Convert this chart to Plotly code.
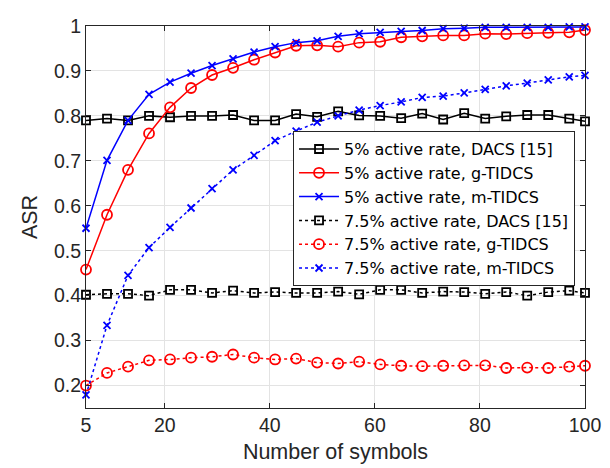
import plotly.graph_objects as go

symbols = [5, 9, 13, 17, 21, 25, 29, 33, 37, 41, 45, 49, 53, 57, 61, 65, 69, 73, 77, 81, 85, 89, 93, 97, 100]

dacs_5 = [0.790, 0.794, 0.790, 0.800, 0.797, 0.800, 0.800, 0.802, 0.790, 0.790, 0.804, 0.798, 0.810,
          0.801, 0.800, 0.795, 0.805, 0.792, 0.806, 0.794, 0.799, 0.802, 0.802, 0.794, 0.788]
gtidcs_5 = [0.458, 0.580, 0.680, 0.761, 0.819, 0.862, 0.891, 0.907, 0.925, 0.941, 0.956, 0.957, 0.954,
            0.963, 0.965, 0.975, 0.977, 0.979, 0.979, 0.983, 0.982, 0.984, 0.985, 0.986, 0.991]
mtidcs_5 = [0.550, 0.701, 0.790, 0.848, 0.875, 0.895, 0.912, 0.927, 0.942, 0.954, 0.963, 0.967, 0.977,
            0.983, 0.986, 0.988, 0.990, 0.994, 0.995, 0.997, 0.997, 0.997, 0.997, 0.998, 0.998]
dacs_75 = [0.402, 0.404, 0.404, 0.400, 0.413, 0.413, 0.406, 0.411, 0.406, 0.408, 0.406, 0.406, 0.409,
           0.403, 0.413, 0.413, 0.406, 0.409, 0.408, 0.404, 0.408, 0.400, 0.408, 0.411, 0.406]
gtidcs_75 = [0.200, 0.228, 0.242, 0.256, 0.258, 0.262, 0.264, 0.269, 0.262, 0.258, 0.260, 0.251, 0.249,
             0.253, 0.247, 0.244, 0.243, 0.244, 0.245, 0.245, 0.239, 0.240, 0.239, 0.242, 0.244]
mtidcs_75 = [0.179, 0.334, 0.445, 0.507, 0.552, 0.595, 0.638, 0.680, 0.712, 0.745, 0.766, 0.786, 0.800,
             0.813, 0.823, 0.831, 0.841, 0.844, 0.851, 0.859, 0.867, 0.873, 0.880, 0.887, 0.890]

x_ticks = [5, 20, 40, 60, 80, 100]
y_ticks = [0.2, 0.3, 0.4, 0.5, 0.6, 0.7, 0.8, 0.9, 1.0]
y_tick_labels = ["0.2", "0.3", "0.4", "0.5", "0.6", "0.7", "0.8", "0.9", "1"]

series = [
    ("5% active rate, DACS [15]", dacs_5, "black", "solid", "square-open", 8),
    ("5% active rate, g-TIDCS", gtidcs_5, "#ff0000", "solid", "circle-open", 10),
    ("5% active rate, m-TIDCS", mtidcs_5, "#0000ff", "solid", "x-thin-open", 7),
    ("7.5% active rate, DACS [15]", dacs_75, "black", "dot", "square-open", 8),
    ("7.5% active rate, g-TIDCS", gtidcs_75, "#ff0000", "dot", "circle-open", 10),
    ("7.5% active rate, m-TIDCS", mtidcs_75, "#0000ff", "dot", "x-thin-open", 7),
]

FONT = "Liberation Sans, Arial, Helvetica, sans-serif"
LEGEND_FONT = "DejaVu Sans, Liberation Sans, sans-serif"
AX = "#262626"

fig = go.Figure()
for name, vals, color, dash, sym, size in series:
    fig.add_trace(go.Scatter(
        x=symbols, y=vals, name=name, mode="lines+markers",
        line=dict(color=color, width=1.5, dash=dash),
        marker=dict(symbol=sym, size=size, color=color, line=dict(color=color, width=1.8)),
        cliponaxis=False,
    ))

axis_common = dict(
    showline=True, linecolor=AX, linewidth=1, mirror="ticks",
    ticks="inside", ticklen=5, tickcolor=AX, tickwidth=1,
    showgrid=True, gridcolor="#e3e3e3", gridwidth=1, zeroline=False,
    tickfont=dict(family=FONT, size=19.5, color=AX),
    ticklabeloverflow="allow",
)

fig.update_layout(
    width=610, height=468,
    margin=dict(l=78, r=33, t=7, b=68),
    paper_bgcolor="white", plot_bgcolor="white",
    font=dict(family=FONT, color=AX),
    xaxis=dict(range=[5, 100], tickvals=x_ticks, ticktext=[str(v) for v in x_ticks],
               title=dict(text="Number of symbols", font=dict(family=FONT, size=21.5, color=AX), standoff=8),
               **axis_common),
    yaxis=dict(range=[0.15, 1.0000001], tickvals=y_ticks, ticktext=y_tick_labels,
               title=dict(text="ASR", font=dict(family=FONT, size=21.5, color=AX), standoff=10),
               **axis_common),
    legend=dict(x=0.98, y=0.522, xanchor="right", yanchor="middle",
                bgcolor="white", bordercolor=AX, borderwidth=1,
                font=dict(family=LEGEND_FONT, size=16, color="black"),
                tracegroupgap=0, itemwidth=40),
    showlegend=True,
)

fig.write_html("out.html")
